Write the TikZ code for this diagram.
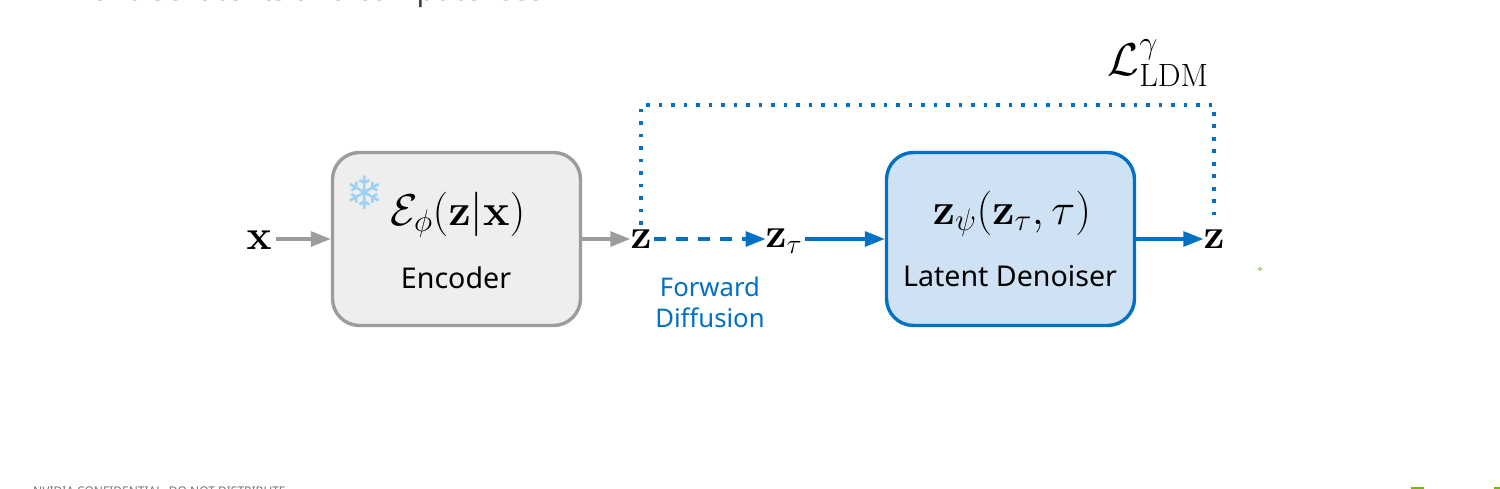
\RequirePackage{fix-cm}
\documentclass[tikz,border=0pt]{standalone}
\usepackage[no-math]{fontspec}
\usepackage{amsmath}
\newfontfamily\labelfont{Noto Sans}
\newfontfamily\emojifont{DejaVu Sans}
\usetikzlibrary{arrows.meta,calc}
\definecolor{nvblue}{HTML}{0071C5}
\definecolor{nvgrey}{HTML}{9C9C9C}
\definecolor{boxgrey}{HTML}{EEEEEE}
\definecolor{boxblue}{HTML}{CFE2F3}
\definecolor{flake}{HTML}{9AD3F7}
\definecolor{nvgreen}{HTML}{76B900}
\definecolor{ringgreen}{HTML}{A9CF7A}
\tikzset{
  x=1pt,y=-1pt,
  flowbox/.style={draw,rounded corners=27pt,line width=3.4pt,minimum width=248pt,minimum height=173pt,inner sep=0pt},
  symb/.style={inner sep=0pt,anchor=center,text=black,font=\fontsize{42}{48}\selectfont},
  formula/.style={symb,font=\fontsize{44.5}{52}\selectfont},
  boxlabel/.style={inner sep=0pt,anchor=center,font=\labelfont\fontsize{28.6}{33}\selectfont},
  flow/.style={line width=3.2pt,-{Triangle[length=20pt,width=15pt]}},
  greyflow/.style={flow,color=nvgrey},
  blueflow/.style={flow,color=nvblue},
  dashflow/.style={blueflow,dash pattern=on 12pt off 10pt},
  lossline/.style={color=nvblue,line width=3.6pt,dash pattern=on 3.6pt off 8.9pt}
}
\begin{document}
\begin{tikzpicture}
\useasboundingbox (0,0) rectangle (1500,489);
\begin{scope}
\clip (0,0) rectangle (1500,489);
\node[anchor=base west,inner sep=0pt,text=black!75,font=\labelfont\fontsize{30}{34}\selectfont] (head) at (68,1) {Denoise latents and compute loss};
\node[anchor=base west,inner sep=0pt,text=black!55,font=\labelfont\fontsize{12}{14}\selectfont] (foot) at (33,495.6) {NVIDIA CONFIDENTIAL. DO NOT DISTRIBUTE.};
\fill[nvgreen] (1411,487) rectangle (1424,489);
\fill[nvgreen] (1494,487) rectangle (1500,489);
\end{scope}
\node[flowbox,color=nvgrey,fill=boxgrey] (enc) at (456.5,239) {};
\node[flowbox,color=nvblue,fill=boxblue] (den) at (1010.5,239) {};
\node[symb] (x) at (259,240) {$\mathbf{x}$};
\node[symb] (z1) at (641,239) {$\mathbf{z}$};
\node[symb] (zt) at (784,241) {$\mathbf{z}_{\text{\fontsize{28}{28}\selectfont$\tau$}}$};
\node[symb] (z2) at (1214,239) {$\mathbf{z}$};
\node[formula] (encf) at (458,215) {$\mathcal{E}_{\phi}(\mathbf{z}|\mathbf{x})$};
\node[formula] (denf) at (1012,214) {$\mathbf{z}_{\psi}(\mathbf{z}_{\tau},\tau)$};
\node[symb,font=\fontsize{46}{54}\selectfont] (loss) at (1158,63) {$\mathcal{L}^{\gamma}_{\mathrm{LDM}}$};
\node[boxlabel] (enct) at (456,278) {Encoder};
\node[boxlabel] (dent) at (1010,276) {Latent Denoiser};
\node[boxlabel,text=nvblue,align=center,font=\labelfont\fontsize{25.7}{31}\selectfont] (fd) at (710,302.5) {Forward\\Diffusion};
\node[inner sep=0pt,text=flake,font=\emojifont\fontsize{46}{50}\selectfont] (snow) at (364.5,193) {❄};
\draw[ringgreen,line width=1pt] (1260,269) circle (1.6pt);
\coordinate (za) at (641,225);
\coordinate (zb) at (1214,215);
\draw[greyflow] ([xshift=4pt]x.east |- enc.west) -- (enc.west);
\draw[greyflow] (enc.east) -- (z1.west);
\draw[dashflow] ([xshift=2pt]z1.east) -- (zt.west |- z1.east);
\draw[blueflow] ([xshift=3pt]zt.east |- den.west) -- (den.west);
\draw[blueflow] (den.east) -- (z2.west);
\draw[lossline] (za) -- (641,105) -- (1214,105) -- (zb);
\end{tikzpicture}
\end{document}
